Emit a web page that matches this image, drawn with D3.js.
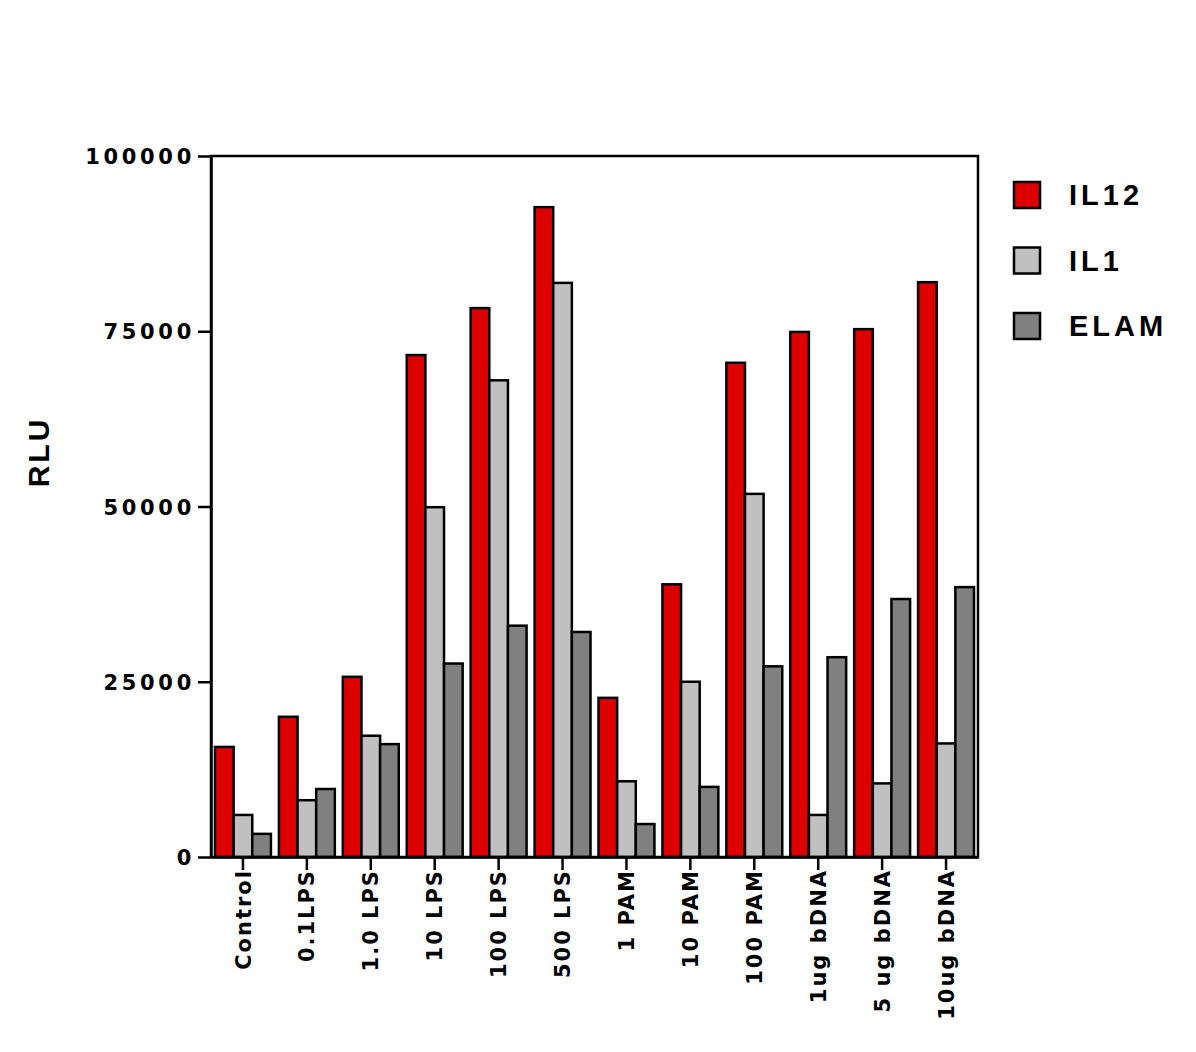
<!DOCTYPE html>
<html lang="en">
  <head>
    <meta charset="UTF-8" />
    <title>RLU grouped bar chart</title>
    <script src="https://d3js.org/d3.v7.min.js"></script>
    <style>
      body {
        margin: 0;
        background: #fff;
      }
      svg {
        display: block;
        font-family: "Liberation Sans", Arial, sans-serif;
        font-weight: bold;
      }
    </style>
  </head>
  <body>
    <script>
      // Data
      const categories = ["Control", "0.1LPS", "1.0 LPS", "10 LPS", "100 LPS", "500 LPS", "1 PAM", "10 PAM", "100 PAM", "1ug bDNA", "5 ug bDNA", "10ug bDNA"];
      const seriesNames = ["IL12", "IL1", "ELAM"];
      const il12 = [15700, 20000, 25700, 71600, 78300, 92700, 22700, 38900, 70500, 74900, 75300, 82000];
      const il1 = [6000, 8100, 17300, 49900, 68000, 81900, 10800, 25000, 51800, 6000, 10500, 16200];
      const elam = [3300, 9700, 16100, 27600, 33000, 32100, 4700, 10000, 27200, 28500, 36800, 38500];
      const yTicks = [0, 25000, 50000, 75000, 100000];
      const colors = ["#dd0000", "#c0c0c0", "#808080"];

      const width = 1196;
      const height = 1052;
      const margin = { top: 156, right: 218, bottom: 195, left: 211 };
      const tickFont = "DejaVu Sans, Verdana, sans-serif";

      const svg = d3.select("body").append("svg").attr("width", width).attr("height", height);

      const rows = categories.map((c, i) => ({ cat: c, values: [il12[i], il1[i], elam[i]] }));

      const x0 = d3
        .scaleBand()
        .domain(categories)
        .range([margin.left, width - margin.right])
        .paddingInner(0.125)
        .paddingOuter(0.0625);

      const x1 = d3.scaleBand().domain(seriesNames).range([0, x0.bandwidth()]).padding(0);

      const y = d3
        .scaleLinear()
        .domain([0, 100000])
        .range([height - margin.bottom, margin.top]);

      const color = d3.scaleOrdinal().domain(seriesNames).range(colors);

      // bars
      const groups = svg
        .append("g")
        .selectAll("g")
        .data(rows)
        .join("g")
        .attr("transform", (d) => `translate(${x0(d.cat)},0)`);

      groups
        .selectAll("rect")
        .data((d) => d.values.map((v, i) => ({ key: seriesNames[i], value: v })))
        .join("rect")
        .attr("x", (d) => x1(d.key))
        .attr("y", (d) => y(d.value))
        .attr("width", x1.bandwidth())
        .attr("height", (d) => y(0) - y(d.value))
        .attr("fill", (d) => color(d.key))
        .attr("stroke", "#000")
        .attr("stroke-width", 2.5);

      // frame
      svg
        .append("rect")
        .attr("x", margin.left)
        .attr("y", margin.top)
        .attr("width", width - margin.right - margin.left)
        .attr("height", y(0) - margin.top)
        .attr("fill", "none")
        .attr("stroke", "#000")
        .attr("stroke-width", 2.5);

      // y axis
      const yAxis = svg
        .append("g")
        .attr("transform", `translate(${margin.left},0)`)
        .call(d3.axisLeft(y).tickValues(yTicks).tickSize(13).tickSizeOuter(0).tickPadding(3).tickFormat(d3.format("d")));
      yAxis.select(".domain").attr("stroke-width", 2.5);
      yAxis.selectAll(".tick line").attr("stroke-width", 2.5);
      yAxis
        .selectAll(".tick text")
        .style("font-family", tickFont)
        .style("font-weight", "bold")
        .style("font-size", "21px")
        .style("letter-spacing", "3.7px")
        .attr("dy", "0.36em")
        .attr("fill", "#000");

      // x axis
      const xAxis = svg
        .append("g")
        .attr("transform", `translate(0,${y(0)})`)
        .call(d3.axisBottom(x0).tickSize(13).tickSizeOuter(0).tickPadding(0));
      xAxis.select(".domain").attr("stroke-width", 2.5);
      xAxis.selectAll(".tick line").attr("stroke-width", 2.5);
      xAxis
        .selectAll(".tick text")
        .style("font-family", tickFont)
        .style("font-weight", "bold")
        .style("font-size", "21px")
        .style("letter-spacing", "2px")
        .attr("fill", "#000")
        .attr("transform", "rotate(-90)")
        .attr("text-anchor", "end")
        .attr("x", -12)
        .attr("y", 0)
        .attr("dy", "0.36em");

      // y axis title
      svg
        .append("text")
        .attr("transform", `translate(49,452) rotate(-90)`)
        .attr("text-anchor", "middle")
        .attr("font-size", 30)
        .style("letter-spacing", "3px")
        .text("RLU");

      // legend
      const legend = svg
        .selectAll(".legend")
        .data(seriesNames)
        .join("g")
        .attr("class", "legend")
        .attr("transform", (d, i) => `translate(1014,${182 + i * 65.5})`);

      legend
        .append("rect")
        .attr("width", 26)
        .attr("height", 26)
        .attr("fill", (d) => color(d))
        .attr("stroke", "#000")
        .attr("stroke-width", 2.5);

      legend
        .append("text")
        .attr("x", 55)
        .attr("y", 13)
        .attr("dy", "0.36em")
        .attr("font-size", 29)
        .style("letter-spacing", "4px")
        .text((d) => d);
    </script>
  </body>
</html>
